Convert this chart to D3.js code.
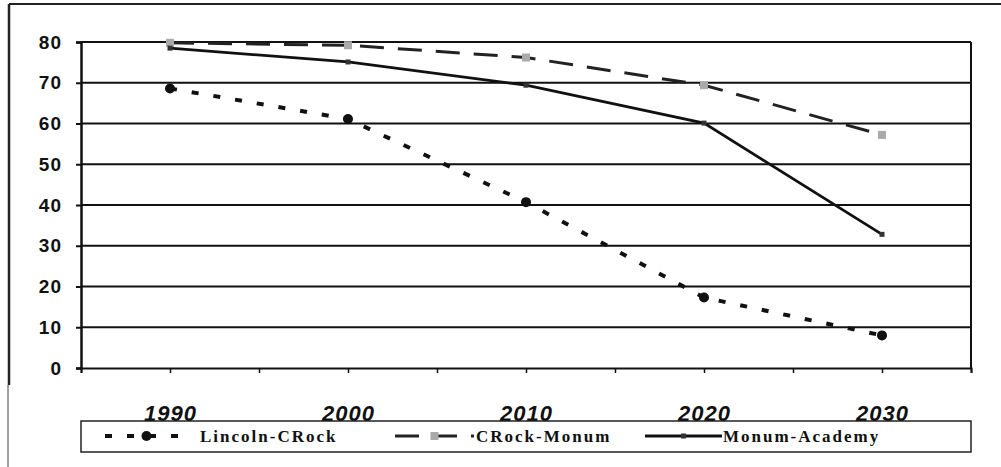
<!DOCTYPE html>
<html>
<head>
<meta charset="utf-8">
<script src="https://cdn.jsdelivr.net/npm/d3@7"></script>
<style>
  body { margin: 0; background: #fff; }
  svg { display: block; }
</style>
</head>
<body>
<div id="chart"></div>
<script>
// values
const years = [1990, 2000, 2010, 2020, 2030];
const lincolnCRock = [68.6, 61.1, 40.7, 17.3, 8.0];
const crockMonum = [79.8, 79.2, 76.2, 69.4, 57.2];
const monumAcademy = [78.5, 75.1, 69.4, 60.1, 32.8];
const yTicks = [0, 10, 20, 30, 40, 50, 60, 70, 80];
const seriesNames = ["Lincoln-CRock", "CRock-Monum", "Monum-Academy"];

const width = 1001, height = 467;

const svg = d3.select("#chart").append("svg")
  .attr("width", width)
  .attr("height", height);

// outer frame (only top and left edges show in the scan)
svg.append("line").attr("x1", 9).attr("x2", width).attr("y1", 4).attr("y2", 4)
  .attr("stroke", "#222").attr("stroke-width", 2);
svg.append("line").attr("x1", 9).attr("x2", 9).attr("y1", 4).attr("y2", 385)
  .attr("stroke", "#222").attr("stroke-width", 2.5);
svg.append("line").attr("x1", 8).attr("x2", 8).attr("y1", 385).attr("y2", height)
  .attr("stroke", "#444").attr("stroke-width", 1);

const x = d3.scaleLinear().domain([1985, 2035]).range([81, 971]);
const y = d3.scaleLinear().domain([0, 80]).range([368, 42]);

// gridlines
svg.append("g")
  .selectAll("line")
  .data(yTicks.filter(d => d > 0))
  .join("line")
  .attr("x1", x(1985)).attr("x2", x(2035))
  .attr("y1", d => y(d)).attr("y2", d => y(d))
  .attr("stroke", "#111").attr("stroke-width", 2);

// right border of plot area
svg.append("line")
  .attr("x1", x(2035)).attr("x2", x(2035))
  .attr("y1", y(80)).attr("y2", y(0))
  .attr("stroke", "#111").attr("stroke-width", 2);

// y axis
const yAxis = svg.append("g")
  .attr("transform", `translate(${x(1985)},0)`)
  .call(d3.axisLeft(y).tickValues(yTicks).tickSize(5).tickPadding(14));
yAxis.select(".domain").attr("stroke", "#111").attr("stroke-width", 2.5);
yAxis.selectAll(".tick line").attr("stroke", "#111").attr("stroke-width", 2);
yAxis.selectAll(".tick text")
  .attr("font-family", "Liberation Sans, Arial, sans-serif")
  .attr("font-weight", "bold")
  .attr("font-size", 19)
  .attr("letter-spacing", 1)
  .attr("fill", "#111");

// x axis: ticks every 5 years, labels every 10
const xAxis = svg.append("g")
  .attr("transform", `translate(0,${y(0)})`)
  .call(d3.axisBottom(x).tickValues(d3.range(1985, 2036, 5)).tickSize(5)
    .tickFormat(d => years.includes(d) ? d : ""));
xAxis.select(".domain").attr("stroke", "#111").attr("stroke-width", 2);
xAxis.selectAll(".tick line").attr("stroke", "#111").attr("stroke-width", 1.5);
xAxis.selectAll(".tick text")
  .attr("y", 37)
  .attr("font-family", "Liberation Sans, Arial, sans-serif")
  .attr("font-weight", "bold")
  .attr("font-style", "italic")
  .attr("font-size", 22)
  .attr("letter-spacing", 1)
  .attr("fill", "#111");

const series = [
  { name: seriesNames[0], values: lincolnCRock, dash: "7,15", width: 4, color: "#111", marker: "circle", mcolor: "#111" },
  { name: seriesNames[1], values: crockMonum, dash: "24,14", width: 3, color: "#222", marker: "square", mcolor: "#aaa" },
  { name: seriesNames[2], values: monumAcademy, dash: null, width: 2.8, color: "#111", marker: "small", mcolor: "#333" }
];

const line = d3.line()
  .x((d, i) => x(years[i]))
  .y(d => y(d));

function drawMarker(g, type, color, cx, cy) {
  if (type === "circle") {
    g.append("circle").attr("cx", cx).attr("cy", cy).attr("r", 5).attr("fill", color);
  } else if (type === "square") {
    g.append("rect").attr("x", cx - 4).attr("y", cy - 4).attr("width", 8).attr("height", 8)
      .attr("fill", color);
  } else {
    g.append("rect").attr("x", cx - 2.5).attr("y", cy - 2.5).attr("width", 5).attr("height", 5)
      .attr("fill", color);
  }
}

series.forEach(s => {
  const g = svg.append("g");
  g.append("path")
    .datum(s.values)
    .attr("d", line)
    .attr("fill", "none")
    .attr("stroke", s.color)
    .attr("stroke-width", s.width)
    .attr("stroke-dasharray", s.dash);
  s.values.forEach((v, i) => drawMarker(g, s.marker, s.mcolor, x(years[i]), y(v)));
});

// legend
const legend = svg.append("g");
legend.append("rect")
  .attr("x", 81).attr("y", 421).attr("width", 890).attr("height", 31)
  .attr("fill", "none").attr("stroke", "#222").attr("stroke-width", 1.5);

const legendPos = [
  { x0: 105, x1: 188, tx: 200 },
  { x0: 395, x1: 474, tx: 476 },
  { x0: 645, x1: 722, tx: 723 }
];

series.forEach((s, i) => {
  const p = legendPos[i];
  const ly = 436;
  const g = legend.append("g");
  g.append("line")
    .attr("x1", p.x0).attr("x2", p.x1).attr("y1", ly).attr("y2", ly)
    .attr("stroke", s.color).attr("stroke-width", s.width)
    .attr("stroke-dasharray", s.dash);
  drawMarker(g, s.marker, s.mcolor, (p.x0 + p.x1) / 2, ly);
  g.append("text")
    .attr("x", p.tx).attr("y", ly + 6)
    .attr("font-family", "Liberation Serif, Times New Roman, serif")
    .attr("font-weight", "bold")
    .attr("font-size", 17)
    .attr("letter-spacing", 2)
    .attr("fill", "#111")
    .text(s.name);
});
</script>
</body>
</html>
